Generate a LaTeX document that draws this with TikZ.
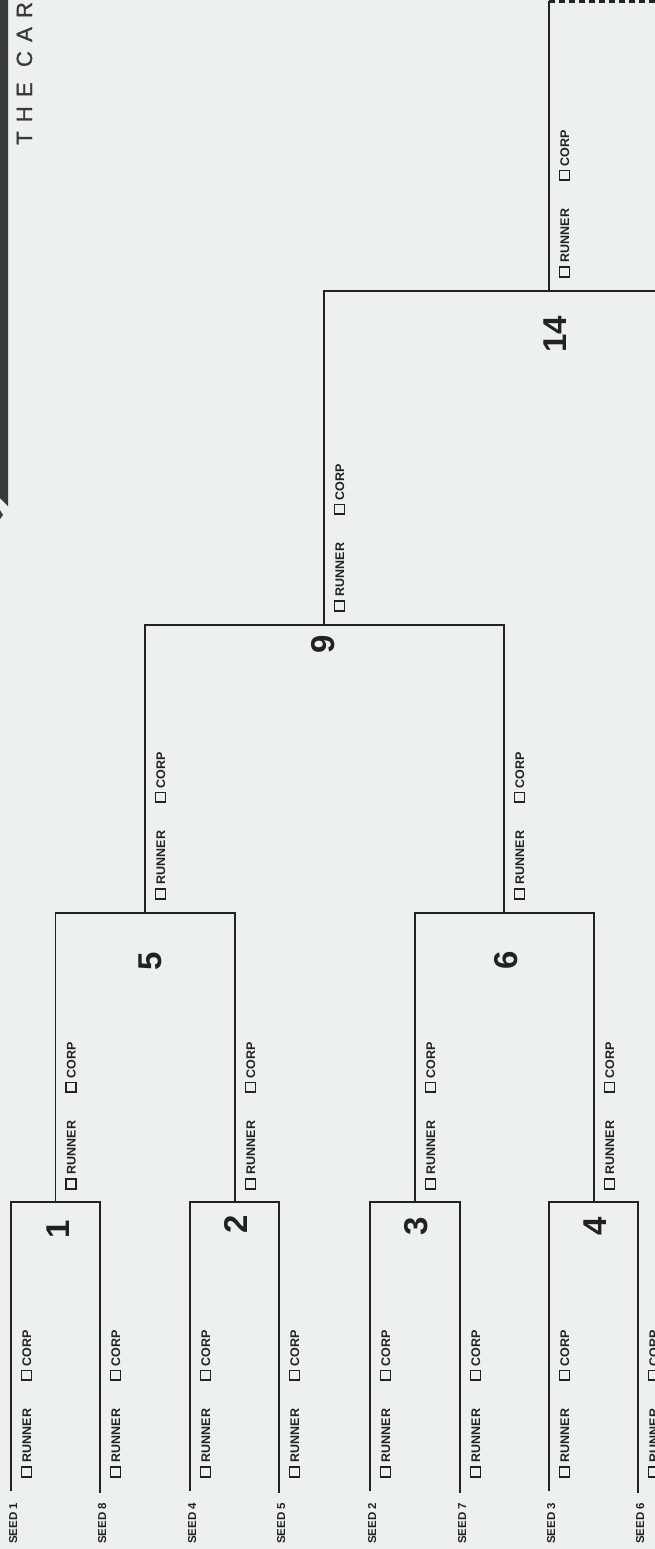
\documentclass[tikz,border=0pt]{standalone}
\usepackage{fontspec}
\setmainfont{Liberation Sans}
\newfontfamily\titlefont[LetterSpace=42,FakeBold=1.2]{Liberation Sans}
\definecolor{bg}{RGB}{237,240,241}
\definecolor{ink}{RGB}{34,34,34}
\definecolor{barc}{RGB}{58,58,58}
\newcommand\cbx{\raisebox{0.2pt}{\setlength{\fboxsep}{0pt}\setlength{\fboxrule}{1.5pt}\fbox{\rule{0pt}{8.4pt}\rule{8.4pt}{0pt}}}}
\newcommand\rc{\cbx\hspace{4pt}RUNNER\hspace{28pt}\cbx\hspace{3pt}CORP}
\begin{document}
\begin{tikzpicture}[x=1pt,y=-1pt,
  bk/.style={draw=ink,line width=1.9pt,line join=miter},
  pick/.style={rotate=90,anchor=base west,inner sep=0pt,font=\bfseries\fontsize{12.5}{12.5}\selectfont,text=ink},
  seedlbl/.style={rotate=90,anchor=base west,inner sep=0pt,font=\bfseries\fontsize{11.5}{11.5}\selectfont,text=ink},
  num/.style={rotate=90,anchor=center,inner sep=0pt,font=\bfseries\fontsize{33}{33}\selectfont,text=ink}]
\useasboundingbox (0,0) rectangle (655,1549);
\clip (0,0) rectangle (655,1549);
\fill[bg] (0,0) rectangle (655,1549);
% side bar and title
\fill[barc] (0,0) -- (8,0) -- (8,506) -- (0,498) -- cycle;
\fill[barc] (0,510) -- (3,515) -- (0,519) -- cycle;
\node[rotate=90,anchor=base west,inner sep=0pt,font=\titlefont\fontsize{22}{22}\selectfont,text=barc] (title) at (32,145) {THE CAR};
% coordinates
\coordinate (s1) at (11,1491);
\coordinate (s8) at (100,1493);
\coordinate (s4) at (190,1491);
\coordinate (s5) at (279,1493);
\coordinate (s2) at (370,1491);
\coordinate (s7) at (460,1493);
\coordinate (s3) at (549,1491);
\coordinate (s6) at (638,1493);
\coordinate (m1) at (55.5,1202);
\coordinate (m2) at (235,1202);
\coordinate (m3) at (415,1202);
\coordinate (m4) at (594,1202);
\coordinate (m5) at (145,913);
\coordinate (m6) at (504,913);
\coordinate (m9) at (324,625);
\coordinate (m14) at (549,291);
\coordinate (e14) at (670,291);
\coordinate (top) at (549,1.5);
\coordinate (te) at (670,1.5);
% bracket
\draw[bk] (s1) |- (m1) -| (s8);
\draw[bk] (s4) |- (m2) -| (s5);
\draw[bk] (s2) |- (m3) -| (s7);
\draw[bk] (s3) |- (m4) -| (s6);
\draw[bk] (m1) |- (m5) -| (m2);
\draw[bk] (m3) |- (m6) -| (m4);
\draw[bk] (m5) |- (m9) -| (m6);
\draw[bk] (m9) |- (m14) -- (e14);
\draw[bk] (m14) -- (top);
\draw[draw=ink,line width=2.6pt,dash pattern=on 6pt off 4pt] (top) -- (te);
% seed labels
\node[seedlbl] (l1) at (17,1544) {SEED 1};
\node[seedlbl] (l8) at (106,1544) {SEED 8};
\node[seedlbl] (l4) at (196,1544) {SEED 4};
\node[seedlbl] (l5) at (285,1544) {SEED 5};
\node[seedlbl] (l2) at (376,1544) {SEED 2};
\node[seedlbl] (l7) at (466,1544) {SEED 7};
\node[seedlbl] (l3) at (555,1544) {SEED 3};
\node[seedlbl] (l6) at (644,1544) {SEED 6};
% runner / corp picks
\node[pick] (p1) at (31,1478) {\rc};
\node[pick] (p8) at (120,1478) {\rc};
\node[pick] (p4) at (210,1478) {\rc};
\node[pick] (p5) at (299,1478) {\rc};
\node[pick] (p2) at (390,1478) {\rc};
\node[pick] (p7) at (480,1478) {\rc};
\node[pick] (p3) at (569,1478) {\rc};
\node[pick] (p6) at (658,1478) {\rc};
\node[pick] (pm1) at (75.5,1190) {\rc};
\node[pick] (pm2) at (255,1190) {\rc};
\node[pick] (pm3) at (435,1190) {\rc};
\node[pick] (pm4) at (614,1190) {\rc};
\node[pick] (pm5) at (165,900) {\rc};
\node[pick] (pm6) at (524,900) {\rc};
\node[pick] (pm9) at (344,612) {\rc};
\node[pick] (pm14) at (569,278) {\rc};
% match numbers
\node[num] (n1) at (58,1229) {1};
\node[num] (n2) at (236,1224) {2};
\node[num] (n3) at (416,1226) {3};
\node[num] (n4) at (595,1226) {4};
\node[num] (n5) at (150,961) {5};
\node[num] (n6) at (506,960) {6};
\node[num] (n9) at (323,644) {9};
\node[num] (n14) at (555,334) {14};
\end{tikzpicture}
\end{document}
